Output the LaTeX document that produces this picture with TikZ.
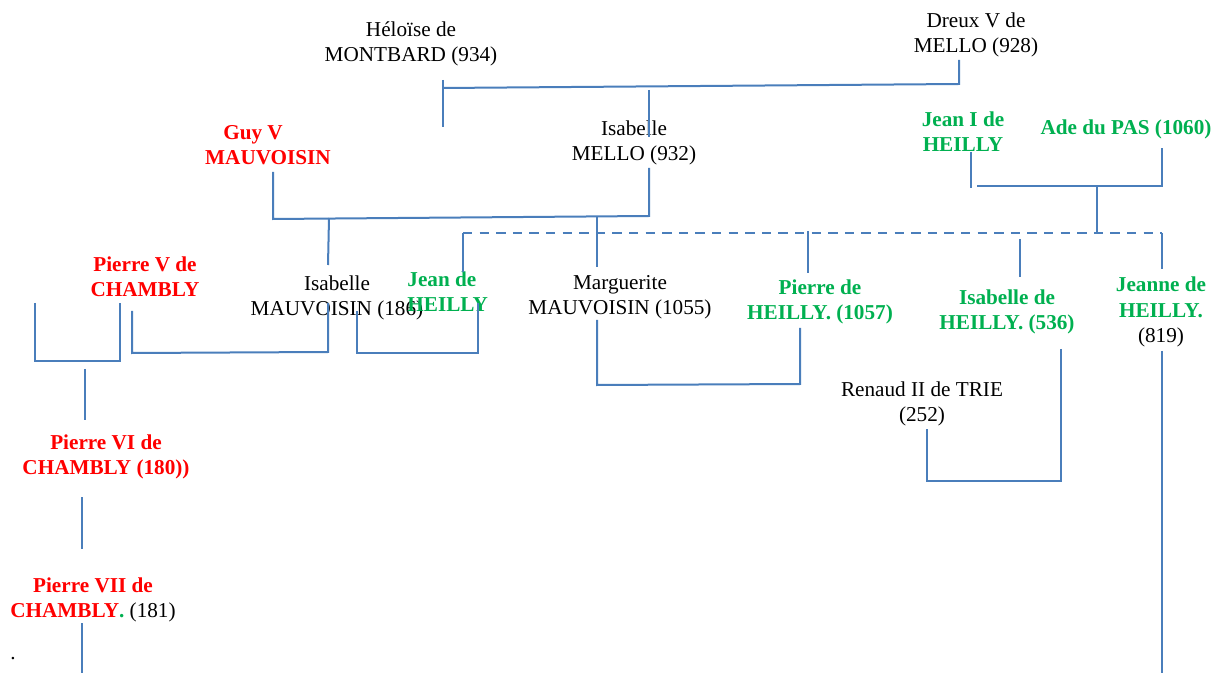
\documentclass[tikz,border=0pt]{standalone}
\usepackage{fontspec}
\setmainfont{Liberation Serif}
\definecolor{lineblue}{RGB}{74,126,187}
\definecolor{redname}{RGB}{255,0,0}
\definecolor{greenname}{RGB}{0,176,80}
\begin{document}
\begin{tikzpicture}[x=0.5pt,y=-0.5pt,
  person/.style={font=\fontsize{10.6}{12.6}\selectfont, align=center, inner sep=0pt, text=black},
  redp/.style={person, font=\fontsize{10.6}{12.6}\selectfont\bfseries, text=redname},
  greenp/.style={person, font=\fontsize{10.6}{12.6}\selectfont\bfseries, text=greenname},
  link/.style={draw=lineblue, line width=1pt},
  dlink/.style={link, dash pattern=on 4.7pt off 3.6pt}]
\useasboundingbox (0,0) rectangle (1225,673);

% people
\node[person] (heloise) at (411,43.5) {Héloïse de\\MONTBARD (934)};
\node[person] (dreux) at (976,35) {Dreux V de\\MELLO (928)};
\node[person] (isamello) at (634,143) {Isabelle\\MELLO (932)};
\node[redp] (guy) at (268,145) {Guy V\hspace*{15pt}\\MAUVOISIN};
\node[greenp] (jean1) at (963,132) {Jean I de\\HEILLY};
\node[greenp] (ade) at (1126,129) {Ade du PAS (1060)};
\node[redp] (pierreV) at (145,277) {Pierre V de\\CHAMBLY};
\node[person] (isamauv) at (337,298) {Isabelle\\MAUVOISIN (186)};
\node[greenp, align=left, anchor=west] (jeande) at (407,292) {Jean de\\HEILLY};
\node[person] (marg) at (620,297) {Marguerite\\MAUVOISIN (1055)};
\node[greenp] (pierrede) at (820,302) {Pierre de\\HEILLY. (1057)};
\node[greenp] (isaheilly) at (1007,312) {Isabelle de\\HEILLY. (536)};
\node[greenp] (jeanne) at (1161,312) {Jeanne de\\HEILLY.\\{\mdseries\color{black}(819)}};
\node[person] (renaud) at (922,404) {Renaud II de TRIE\\(252)};
\node[redp] (pierreVI) at (106,457) {Pierre VI de\\CHAMBLY (180))};
\node[redp] (pierreVII) at (93,600) {Pierre VII de\\CHAMBLY{\color{greenname}.}\ {\mdseries\color{black}(181)}};
\node[person] (dot) at (13,659) {.};

% junction points
\coordinate (hA) at (443,80);  \coordinate (hB) at (443,127);
\coordinate (hC) at (443,88);  \coordinate (hD) at (959,84);  \coordinate (hE) at (959,60);
\coordinate (iA) at (649,90);  \coordinate (iB) at (649,137);
\coordinate (gA) at (649,168); \coordinate (gB) at (649,216); \coordinate (gC) at (273,219); \coordinate (gD) at (273,172);
\coordinate (cA) at (329,218); \coordinate (cB) at (328,265);
\coordinate (cC) at (597,217); \coordinate (cD) at (597,267);
\coordinate (jA) at (971,152); \coordinate (jB) at (971,188);
\coordinate (jC) at (977,186); \coordinate (jD) at (1162,186); \coordinate (jE) at (1162,148);
\coordinate (jF) at (1097,186); \coordinate (jG) at (1097,233);
\coordinate (dA) at (463,272); \coordinate (dB) at (463,233); \coordinate (dC) at (1162,233); \coordinate (dD) at (1162,269);
\coordinate (pA) at (808,231); \coordinate (pB) at (808,273);
\coordinate (sA) at (1020,239); \coordinate (sB) at (1020,277);
\coordinate (vA) at (35,303); \coordinate (vB) at (35,361); \coordinate (vC) at (120,361); \coordinate (vD) at (120,303);
\coordinate (vE) at (85,369); \coordinate (vF) at (85,420);
\coordinate (wA) at (132,311); \coordinate (wB) at (132,353); \coordinate (wC) at (328,352); \coordinate (wD) at (328,303);
\coordinate (xA) at (357,311); \coordinate (xB) at (357,353); \coordinate (xC) at (478,353); \coordinate (xD) at (478,303);
\coordinate (mA) at (597,320); \coordinate (mB) at (597,385); \coordinate (mC) at (800,384); \coordinate (mD) at (800,328);
\coordinate (rA) at (1061,349); \coordinate (rB) at (1061,481); \coordinate (rC) at (927,481); \coordinate (rD) at (927,429);
\coordinate (eA) at (1162,351); \coordinate (eB) at (1162,673);
\coordinate (kA) at (82,497); \coordinate (kB) at (82,549);
\coordinate (kC) at (82,623); \coordinate (kD) at (82,673);

% connectors
\draw[link] (hA) -- (hB);
\draw[link] (hC) -- (hD) -- (hE);
\draw[link] (iA) -- (iB);
\draw[link] (gA) -- (gB) -- (gC) -- (gD);
\draw[link] (cA) -- (cB);
\draw[link] (cC) -- (cD);
\draw[link] (jA) -- (jB);
\draw[link] (jC) -- (jD) -- (jE);
\draw[link] (jF) -- (jG);
\draw[dlink] (dB) -- (dC);
\draw[link] (dA) -- (dB);
\draw[link] (dC) -- (dD);
\draw[link] (pA) -- (pB);
\draw[link] (sA) -- (sB);
\draw[link] (vA) -- (vB) -- (vC) -- (vD);
\draw[link] (vE) -- (vF);
\draw[link] (wA) -- (wB) -- (wC) -- (wD);
\draw[link] (xA) -- (xB) -- (xC) -- (xD);
\draw[link] (mA) -- (mB) -- (mC) -- (mD);
\draw[link] (rA) -- (rB) -- (rC) -- (rD);
\draw[link] (eA) -- (eB);
\draw[link] (kA) -- (kB);
\draw[link] (kC) -- (kD);
\end{tikzpicture}
\end{document}
